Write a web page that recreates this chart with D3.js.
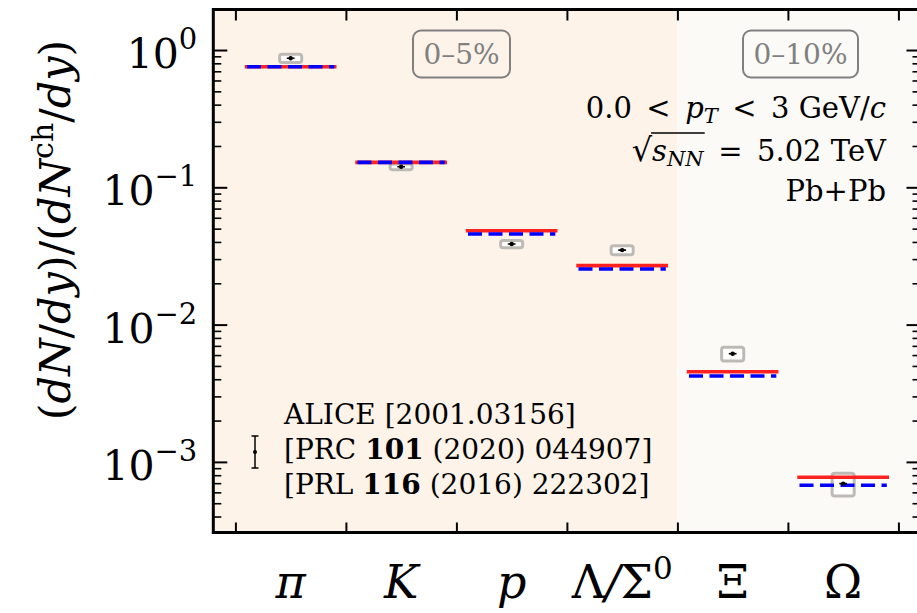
<!DOCTYPE html>
<html><head><meta charset="utf-8">
<script src="https://cdn.jsdelivr.net/npm/d3@7"></script>
<style>
body{margin:0;background:#fff}
svg{display:block}
text{font-family:"DejaVu Serif",serif;fill:#000}
</style>
</head><body>
<svg id="c" width="917" height="613"></svg>
<script>
// ---------------- data ----------------
const categories = ["π", "K", "p", "Λ/Σ0", "Ξ", "Ω"];
const modelRed  = [0.756, 0.152, 0.0483, 0.0269, 0.00454, 0.000773];
const modelBlue = [0.756, 0.152, 0.0457, 0.0254, 0.00422, 0.000676];
const aliceValue = [0.87, 0.141, 0.0386, 0.0349, 0.00614, 0.000695];
const aliceSys   = [0.06, 0.007, 0.0023, 0.0026, 0.0007, 0.00013];
const centralityLabels = ["0–5%", "0–10%"];
const centralityBounds = [-0.7, 3.5, 5.7];
const yMajorTicks = [1e-3, 1e-2, 1e-1, 1];
const yTickExponents = ["−3", "−2", "−1", "0"];
const xTickValues = [-0.5, 0.5, 1.5, 2.5, 3.5, 4.5, 5.5];
const legendLines = [
  [["ALICE [2001.03156]", false]],
  [["[PRC ", false], ["101", true], [" (2020) 044907]", false]],
  [["[PRL ", false], ["116", true], [" (2016) 222302]", false]]
];

// ---------------- layout ----------------
const L = 213.3, R = 920.5, T = 9.5, B = 532.5;
const svg = d3.select("#c");
const x = d3.scaleLinear().domain([-0.7, 5.7]).range([L, R]);
const y = d3.scaleLog().domain([3.06e-4, 1.973]).range([B, T]);

const defs = svg.append("defs");
defs.append("clipPath").attr("id", "clip").append("rect")
  .attr("x", L).attr("y", T).attr("width", R - L).attr("height", B - T);

const plot = svg.append("g").attr("clip-path", "url(#clip)");
const bgColors = ["#fdf3e9", "#fcfaf6"];
for (let i = 0; i < 2; i++) {
  plot.append("rect")
    .attr("x", x(centralityBounds[i])).attr("y", T)
    .attr("width", x(centralityBounds[i + 1]) - x(centralityBounds[i]))
    .attr("height", B - T).attr("fill", bgColors[i]);
}

// ---------------- axes ----------------
const minorTicks = [];
for (let e = -4; e <= 0; e++) for (let k = 2; k <= 9; k++) {
  const v = k * Math.pow(10, e);
  if (v > y.domain()[0] && v < y.domain()[1]) minorTicks.push(v);
}
function styleAxis(g, w) {
  g.select(".domain").remove();
  g.selectAll(".tick line").attr("stroke", "#000").attr("stroke-width", w);
  g.selectAll(".tick text").remove();
}
svg.append("g").attr("transform", `translate(${L},0)`)
  .call(d3.axisLeft(y).tickValues(yMajorTicks).tickSize(-14).tickFormat(""))
  .call(g => styleAxis(g, 2));
svg.append("g").attr("transform", `translate(${L},0)`)
  .call(d3.axisLeft(y).tickValues(minorTicks).tickSize(-8).tickFormat(""))
  .call(g => styleAxis(g, 1.6));
svg.append("g").attr("transform", `translate(${R},0)`)
  .call(d3.axisRight(y).tickValues(yMajorTicks).tickSize(-14).tickFormat(""))
  .call(g => styleAxis(g, 2));
svg.append("g").attr("transform", `translate(${R},0)`)
  .call(d3.axisRight(y).tickValues(minorTicks).tickSize(-8).tickFormat(""))
  .call(g => styleAxis(g, 1.6));
svg.append("g").attr("transform", `translate(0,${T})`)
  .call(d3.axisTop(x).tickValues(xTickValues).tickSize(-11).tickFormat(""))
  .call(g => styleAxis(g, 2));
svg.append("g").attr("transform", `translate(0,${B})`)
  .call(d3.axisBottom(x).tickValues(xTickValues).tickSize(-10).tickFormat(""))
  .call(g => styleAxis(g, 2));

// y tick labels
yMajorTicks.forEach((v, i) => {
  const t = svg.append("text").attr("x", L - 16).attr("y", y(v) + 18)
    .attr("text-anchor", "end").attr("font-size", 41);
  t.append("tspan").text("10");
  t.append("tspan").attr("dy", -19).attr("font-size", 29).text(yTickExponents[i]);
});

// x category labels
categories.forEach((c, i) => {
  const t = svg.append("text").attr("x", x(i)).attr("y", 598)
    .attr("text-anchor", "middle").attr("font-size", 46);
  if (c === "Λ/Σ0") {
    t.append("tspan").text("Λ");
    t.append("tspan").attr("font-style", "italic").text("/");
    t.append("tspan").text("Σ");
    t.append("tspan").attr("dy", -19).attr("font-size", 31).text("0");
  } else {
    t.append("tspan").attr("font-style", (c === "π" || c === "K" || c === "p") ? "italic" : "normal").text(c);
  }
});

// y axis title
{
  const t = svg.append("text").attr("transform", "translate(70,230) rotate(-90)")
    .attr("text-anchor", "middle").attr("font-size", 43);
  const it = s => t.append("tspan").attr("font-style", "italic").text(s);
  const rm = s => t.append("tspan").text(s);
  rm("("); it("dN"); rm("/"); it("dy"); rm(")/("); it("dN");
  t.append("tspan").attr("dy", -17).attr("font-size", 30).text("ch");
  t.append("tspan").attr("dy", 17).text("/");
  it("dy"); rm(")");
}

// ---------------- data marks ----------------
const bw = 0.1;
plot.selectAll("rect.sys").data(aliceValue).join("rect").attr("class", "sys")
  .attr("x", (d, i) => x(i - bw)).attr("width", 2 * (x(bw) - x(0)))
  .attr("y", (d, i) => y(d + aliceSys[i]))
  .attr("height", (d, i) => y(d - aliceSys[i]) - y(d + aliceSys[i]))
  .attr("rx", 2.5).attr("fill", "#ffffff").attr("fill-opacity", 0.85)
  .attr("stroke", "#bdbab6").attr("stroke-width", 3);

const hw = 0.415;
plot.selectAll("line.red").data(modelRed).join("line").attr("class", "red")
  .attr("x1", (d, i) => x(i - hw)).attr("x2", (d, i) => x(i + hw))
  .attr("y1", d => y(d)).attr("y2", d => y(d))
  .attr("stroke", "#ff2020").attr("stroke-width", 3.6);
plot.selectAll("line.blue").data(modelBlue).join("line").attr("class", "blue")
  .attr("x1", (d, i) => x(i - hw + 0.02)).attr("x2", (d, i) => x(i + hw - 0.02))
  .attr("y1", d => y(d)).attr("y2", d => y(d))
  .attr("stroke", "#0000ff").attr("stroke-width", 3.6).attr("stroke-dasharray", "14,6.5");

plot.selectAll("line.pt").data(aliceValue).join("line").attr("class", "pt")
  .attr("x1", (d, i) => x(i - 0.035)).attr("x2", (d, i) => x(i + 0.035))
  .attr("y1", d => y(d)).attr("y2", d => y(d))
  .attr("stroke", "#000").attr("stroke-width", 1.6);
plot.selectAll("circle.pt").data(aliceValue).join("circle").attr("class", "pt")
  .attr("cx", (d, i) => x(i)).attr("cy", d => y(d)).attr("r", 2.2).attr("fill", "#000");

// ---------------- spines ----------------
svg.append("rect").attr("x", L).attr("y", T).attr("width", R - L).attr("height", B - T)
  .attr("fill", "none").attr("stroke", "#000").attr("stroke-width", 3);

// ---------------- annotations ----------------
const cenPos = [[461.5, 54, 97, 47], [800.5, 54, 115, 47]];
centralityLabels.forEach((s, i) => {
  const [cx, cy, w, h] = cenPos[i];
  svg.append("rect").attr("x", cx - w / 2).attr("y", cy - h / 2).attr("width", w).attr("height", h)
    .attr("rx", 8).attr("fill", "none").attr("stroke", "#808080").attr("stroke-width", 2);
  svg.append("text").attr("x", cx).attr("y", cy + 10).attr("text-anchor", "middle")
    .attr("font-size", 28).style("fill", "#808080").text(s);
});

{
  const fs = 29, xr = 886, sp = "\u2002";
  const t1 = svg.append("text").attr("x", xr).attr("y", 118).attr("text-anchor", "end").attr("font-size", fs);
  t1.append("tspan").text("0.0" + sp + "<" + sp);
  t1.append("tspan").attr("font-style", "italic").text("p");
  t1.append("tspan").attr("font-style", "italic").attr("font-size", 21).attr("dy", 5).text("T");
  t1.append("tspan").attr("dy", -5).text(sp + "<" + sp + "3 GeV/");
  t1.append("tspan").attr("font-style", "italic").text("c");

  const t2 = svg.append("text").attr("x", xr).attr("y", 161).attr("text-anchor", "end").attr("font-size", fs);
  t2.append("tspan").attr("font-size", 32).text("√");
  t2.append("tspan").attr("font-style", "italic").text("s");
  t2.append("tspan").attr("font-style", "italic").attr("font-size", 21).attr("dy", 5).text("NN");
  t2.append("tspan").attr("dy", -5).text(sp + "=" + sp + "5.02 TeV");
  const n = t2.node();
  const xs = n.getEndPositionOfChar(0).x, xe = n.getEndPositionOfChar(3).x;
  svg.append("line").attr("x1", xs - 1).attr("x2", xe + 1).attr("y1", 161 - 28).attr("y2", 161 - 28)
    .attr("stroke", "#000").attr("stroke-width", 1.4);

  svg.append("text").attr("x", xr).attr("y", 201).attr("text-anchor", "end").attr("font-size", fs).text("Pb+Pb");
}

// legend
{
  const lx = 255;
  const g = svg.append("g").attr("stroke", "#000").attr("stroke-width", 1.5);
  g.append("line").attr("x1", lx).attr("x2", lx).attr("y1", 436).attr("y2", 468);
  g.append("line").attr("x1", lx - 3.5).attr("x2", lx + 3.5).attr("y1", 436).attr("y2", 436);
  g.append("line").attr("x1", lx - 3.5).attr("x2", lx + 3.5).attr("y1", 468).attr("y2", 468);
  svg.append("circle").attr("cx", lx).attr("cy", 452).attr("r", 2).attr("fill", "#000");
  const baselines = [424, 459, 494];
  legendLines.forEach((parts, i) => {
    const t = svg.append("text").attr("x", 284).attr("y", baselines[i]).attr("font-size", 28);
    parts.forEach(([s, b]) => t.append("tspan").attr("font-weight", b ? "bold" : "normal").text(s));
  });
}
</script>
</body></html>
